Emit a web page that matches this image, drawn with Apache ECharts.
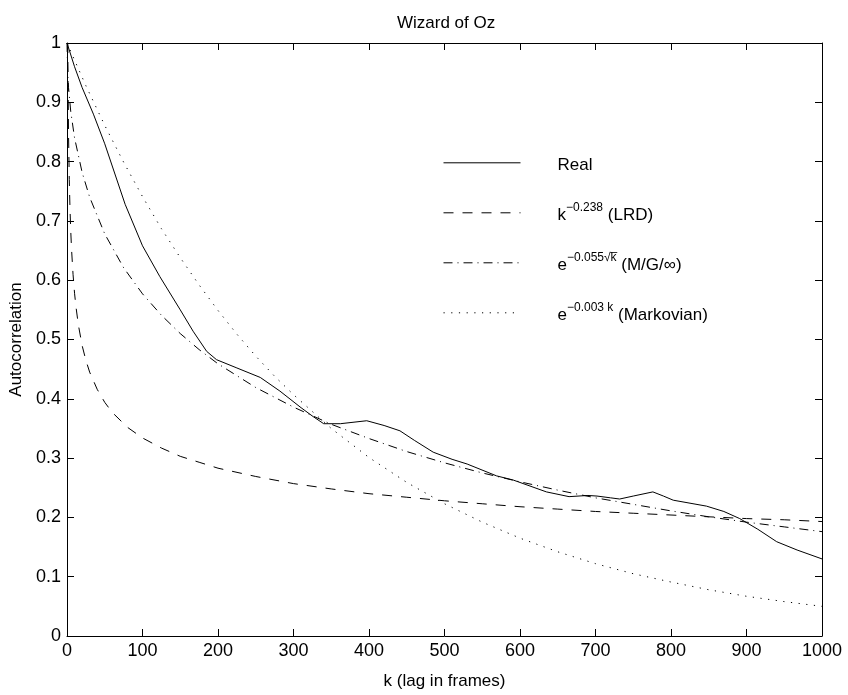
<!DOCTYPE html>
<html>
<head>
<meta charset="utf-8">
<script src="https://cdn.jsdelivr.net/npm/echarts@6/dist/echarts.min.js"></script>
<style>html,body{margin:0;padding:0;background:#fff;}#c{width:848px;height:695px;}</style>
</head>
<body>
<div id="c"></div>
<script>
// ---- data ----
const xTicks = [0,100,200,300,400,500,600,700,800,900,1000];
const yTicks = [0,0.1,0.2,0.3,0.4,0.5,0.6,0.7,0.8,0.9,1];

const realK = [0,10,20,35,50,77,100,123,150,167,185,198,225,256,282,310,326,340,362,397,420,441,460,485,510,530,569,591,635,665,690,702,720,732,750,776,790,803,847,870,891,915,940,967,1000];
const realV = [1.0,0.96,0.925,0.88,0.83,0.728,0.658,0.606,0.55,0.514,0.48,0.466,0.452,0.436,0.413,0.385,0.370,0.358,0.358,0.363,0.355,0.346,0.33,0.31,0.298,0.29,0.27,0.263,0.243,0.235,0.237,0.236,0.233,0.231,0.236,0.243,0.236,0.229,0.219,0.21,0.198,0.18,0.159,0.145,0.13];

const lrdK = [1,2,3,4,5,6,8,10,12,15,20,25,30,40,50,60,80,100,125,150,175,200,250,300,350,400,450,500,550,600,650,700,750,800,850,900,950,1000];
const lrdV = [1.0,0.848,0.770,0.719,0.682,0.653,0.610,0.578,0.554,0.525,0.490,0.465,0.445,0.416,0.394,0.377,0.352,0.334,0.317,0.303,0.293,0.283,0.269,0.257,0.248,0.240,0.234,0.228,0.223,0.218,0.214,0.210,0.207,0.204,0.201,0.198,0.196,0.193];

const mgK = [0,1,2,5,10,20,30,50,75,100,125,150,175,200,250,300,350,400,450,500,550,600,650,700,750,800,850,900,950,1000];
const mgV = [1.0,0.946,0.925,0.884,0.840,0.782,0.740,0.678,0.621,0.577,0.541,0.510,0.483,0.459,0.419,0.386,0.357,0.333,0.311,0.292,0.275,0.260,0.246,0.233,0.222,0.211,0.201,0.192,0.184,0.176];

const markK = [0,25,50,75,100,125,150,175,200,225,250,275,300,350,400,450,500,550,600,650,700,750,800,850,900,950,1000];
const markV = [1.0,0.928,0.861,0.799,0.741,0.687,0.638,0.592,0.549,0.509,0.472,0.438,0.407,0.350,0.301,0.259,0.223,0.192,0.165,0.142,0.122,0.105,0.091,0.078,0.067,0.058,0.050];

const zip = (a, b) => a.map((v, i) => [v, b[i]]);
const FONT = 'Liberation Sans';

const chart = echarts.init(document.getElementById('c'), null, {renderer: 'canvas'});

const baseAxis = {
  axisLine: {show: true, onZero: false, lineStyle: {color: '#000', width: 1}},
  axisTick: {show: true, inside: true, length: 7, lineStyle: {color: '#000', width: 1}},
  splitLine: {show: false},
};

const option = {
  backgroundColor: '#fff',
  animation: false,
  title: {
    text: 'Wizard of Oz',
    left: 392,
    top: 10,
    textStyle: {fontFamily: FONT, fontSize: 17, fontWeight: 'normal', color: '#000'}
  },
  grid: {left: 67, right: 26, top: 43, bottom: 55, containLabel: false},
  legend: {
    orient: 'vertical',
    left: 443,
    top: 154,
    padding: 0,
    itemWidth: 77,
    itemHeight: 22,
    itemGap: 28,
    itemStyle: {opacity: 0},
    lineStyle: {width: 1, color: '#000'},
    textStyle: {
      fontFamily: FONT, fontSize: 17, color: '#000',
      rich: {
        g: {width: 32},
        b: {fontFamily: FONT, fontSize: 17, color: '#000', lineHeight: 22, verticalAlign: 'bottom'},
        s: {fontFamily: FONT, fontSize: 12, color: '#000', lineHeight: 22, verticalAlign: 'top'}
      }
    },
    formatter: function (name) {
      if (name === 'LRD') return '{g|}{b|k}{s|\u22120.238}{b| (LRD)}';
      if (name === 'MG') return '{g|}{b|e}{s|\u22120.055\u221Ak\u0305}{b| (M/G/\u221E)}';
      if (name === 'Mark') return '{g|}{b|e}{s|\u22120.003 k}{b| (Markovian)}';
      return '{g|}{b|Real}';
    },
    data: ['Real', 'LRD', 'MG', 'Mark']
  },
  xAxis: [
    Object.assign({}, baseAxis, {
      type: 'value', min: 0, max: 1000, interval: 100, position: 'bottom',
      name: 'k (lag in frames)', nameLocation: 'middle', nameGap: 37,
      nameTextStyle: {fontFamily: FONT, fontSize: 17, color: '#000'},
      axisLabel: {fontFamily: FONT, fontSize: 18, color: '#000', margin: 6,
        formatter: v => xTicks.includes(v) ? String(v) : ''}
    }),
    Object.assign({}, baseAxis, {
      type: 'value', min: 0, max: 1000, interval: 100, position: 'top',
      axisLabel: {show: false}
    })
  ],
  yAxis: [
    Object.assign({}, baseAxis, {
      type: 'value', min: 0, max: 1, interval: 0.1, position: 'left',
      name: 'Autocorrelation', nameLocation: 'middle', nameGap: 40,
      nameTextStyle: {fontFamily: FONT, fontSize: 17, color: '#000'},
      axisLabel: {fontFamily: FONT, fontSize: 18, color: '#000', margin: 6,
        formatter: v => { const t = yTicks.find(y => Math.abs(y - v) < 1e-9); return t === undefined ? '' : String(t); }}
    }),
    Object.assign({}, baseAxis, {
      type: 'value', min: 0, max: 1, interval: 0.1, position: 'right',
      axisLabel: {show: false}
    })
  ],
  series: [
    {name: 'Real', type: 'line', data: zip(realK, realV), symbol: 'none',
      lineStyle: {color: '#000', width: 1, type: 'solid'}},
    {name: 'LRD', type: 'line', data: zip(lrdK, lrdV), symbol: 'none',
      lineStyle: {color: '#000', width: 1, type: [10, 9]}},
    {name: 'MG', type: 'line', data: zip(mgK, mgV), symbol: 'none',
      lineStyle: {color: '#000', width: 1, type: [9, 5, 1, 5]}},
    {name: 'Mark', type: 'line', data: zip(markK, markV), symbol: 'none',
      lineStyle: {color: '#000', width: 1, type: [1.2, 6.5]}}
  ]
};
chart.setOption(option);
</script>
</body>
</html>
